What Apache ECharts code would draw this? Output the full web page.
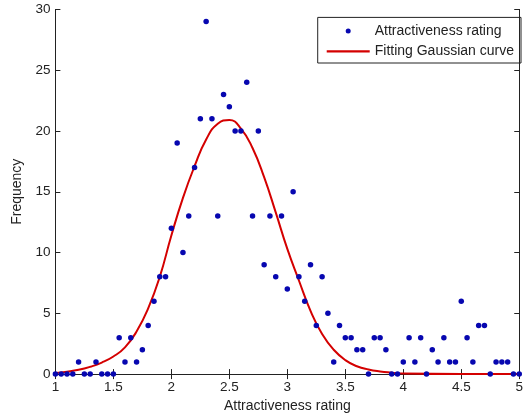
<!DOCTYPE html>
<html>
<head>
<meta charset="utf-8">
<script src="https://cdn.jsdelivr.net/npm/echarts@6/dist/echarts.min.js"></script>
<style>
  html, body { margin: 0; padding: 0; background: #fff; }
  #chart { width: 526px; height: 418px; }
</style>
</head>
<body>
<div id="chart"></div>
<script>
  // ratings, step 0.05
  let ratings = [1, 1.05, 1.1, 1.15, 1.2, 1.25, 1.3, 1.35, 1.4, 1.45, 1.5, 1.55, 1.6, 1.65, 1.7, 1.75, 1.8, 1.85, 1.9, 1.95,
    2, 2.05, 2.1, 2.15, 2.2, 2.25, 2.3, 2.35, 2.4, 2.45, 2.5, 2.55, 2.6, 2.65, 2.7, 2.75, 2.8, 2.85, 2.9, 2.95,
    3, 3.05, 3.1, 3.15, 3.2, 3.25, 3.3, 3.35, 3.4, 3.45, 3.5, 3.55, 3.6, 3.65, 3.7, 3.75, 3.8, 3.85, 3.9, 3.95,
    4, 4.05, 4.1, 4.15, 4.2, 4.25, 4.3, 4.35, 4.4, 4.45, 4.5, 4.55, 4.6, 4.65, 4.7, 4.75, 4.8, 4.85, 4.9, 4.95, 5];
  let frequency = [0, 0, 0, 0, 1, 0, 0, 1, 0, 0, 0, 3, 1, 3, 1, 2, 4, 6, 8, 8,
    12, 19, 10, 13, 17, 21, 29, 21, 13, 23, 22, 20, 20, 24, 13, 20, 9, 13, 8, 13,
    7, 15, 8, 6, 9, 4, 8, 5, 1, 4, 3, 3, 2, 2, 0, 3, 3, 2, 0, 0,
    1, 3, 1, 3, 0, 2, 1, 3, 1, 1, 6, 3, 1, 4, 4, 0, 1, 1, 1, 0, 0];

  // fitted curve
  let curveX = [1, 1.1, 1.2, 1.3, 1.4, 1.5, 1.6, 1.7, 1.8, 1.9, 2, 2.1, 2.2, 2.3, 2.4, 2.5, 2.6, 2.7, 2.8, 2.9,
    3, 3.1, 3.2, 3.3, 3.4, 3.5, 3.6, 3.7, 3.8, 3.9, 4, 4.5, 5];
  let curveY = [0.1, 0.2, 0.35, 0.6, 0.95, 1.45, 2.2, 3.5, 5.4, 8.0, 11.4, 14.5, 17.1, 19.3, 20.6, 20.9, 20.2, 18.6, 16.2, 13.3,
    10.3, 7.7, 5.2, 3.3, 2.0, 1.15, 0.65, 0.38, 0.22, 0.12, 0.04, 0, 0];

  let xTicks = ['1', '1.5', '2', '2.5', '3', '3.5', '4', '4.5', '5'];

  let chart = echarts.init(document.getElementById('chart'));
  let font = "'Liberation Sans', Arial, sans-serif";
  let axisLine = { show: true, lineStyle: { color: '#222', width: 1 } };
  let tick = { show: true, inside: true, length: 5, lineStyle: { color: '#222' } };

  let points = ratings.map(function (r, i) { return [r, frequency[i]]; });
  let curve = curveX.map(function (r, i) { return [r, curveY[i]]; });

  let option = {
    animation: false,
    grid: { left: 55.4, right: 0, top: 9.4, bottom: 35.4 },
    legend: {
      orient: 'vertical',
      right: 5,
      top: 17.4,
      padding: [5.5, 7, 3.7, 9],
      itemGap: 4.4,
      itemWidth: 43,
      itemHeight: 5,
      borderColor: '#222',
      borderWidth: 1,
      textStyle: { fontFamily: font, fontSize: 14, color: '#222', lineHeight: 16 },
      data: [
        { name: 'Attractiveness rating', icon: 'circle' },
        { name: 'Fitting Gaussian curve', icon: 'path://M0,0L43,0L43,2.2L0,2.2Z' }
      ]
    },
    xAxis: [
      {
        type: 'value', min: 1, max: 5, interval: 0.5, position: 'bottom',
        name: 'Attractiveness rating', nameLocation: 'middle', nameGap: 22,
        nameTextStyle: { fontFamily: font, fontSize: 14, color: '#222' },
        axisLine: axisLine, axisTick: tick, splitLine: { show: false },
        axisLabel: {
          fontFamily: font, fontSize: 13.5, color: '#222', margin: 6,
          formatter: function (v) { return xTicks[Math.round((v - 1) / 0.5)]; }
        }
      },
      {
        type: 'value', min: 1, max: 5, interval: 0.5, position: 'top',
        axisLine: axisLine, axisTick: tick, splitLine: { show: false }, axisLabel: { show: false }
      }
    ],
    yAxis: [
      {
        type: 'value', min: 0, max: 30, interval: 5, position: 'left',
        name: 'Frequency', nameLocation: 'middle', nameGap: 30,
        nameTextStyle: { fontFamily: font, fontSize: 14, color: '#222' },
        axisLine: axisLine, axisTick: tick, splitLine: { show: false },
        axisLabel: { fontFamily: font, fontSize: 13.5, color: '#222', margin: 5 }
      },
      {
        type: 'value', min: 0, max: 30, interval: 5, position: 'right',
        axisLine: axisLine, axisTick: tick, splitLine: { show: false }, axisLabel: { show: false }
      }
    ],
    series: [
      {
        name: 'Attractiveness rating',
        type: 'scatter',
        symbol: 'circle',
        symbolSize: 5.5,
        itemStyle: { color: '#0707b0', opacity: 1 },
        data: points,
        z: 3
      },
      {
        name: 'Fitting Gaussian curve',
        type: 'line',
        smooth: 0.5,
        showSymbol: false,
        symbol: 'none',
        lineStyle: { color: '#d40000', width: 2 },
        itemStyle: { color: '#d40000' },
        data: curve,
        z: 2
      }
    ]
  };
  chart.setOption(option);
</script>
</body>
</html>
